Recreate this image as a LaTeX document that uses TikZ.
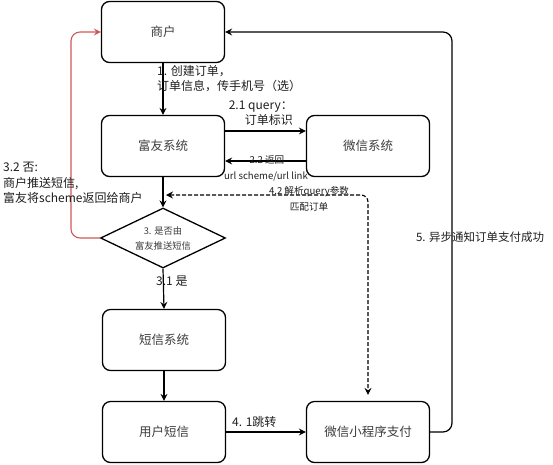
\documentclass[tikz,border=0pt]{standalone}
\usepackage{fontspec}
\setmainfont{Noto Sans CJK SC}
\usetikzlibrary{arrows.meta,shapes.geometric}
\definecolor{redline}{RGB}{208,88,88}
\definecolor{boxtext}{RGB}{60,60,60}
\definecolor{labtext}{RGB}{30,30,30}
\begin{document}
\begin{tikzpicture}[x=1pt,y=-1pt,
  box/.style={draw=black,line width=1.3pt,rounded corners=8pt,minimum width=123pt,minimum height=61pt,inner sep=0pt,font=\fontsize{12.5}{15}\selectfont,text=boxtext},
  dia/.style={draw=black,line width=1.3pt,diamond,aspect=2.05,minimum width=125pt,minimum height=60pt,inner sep=0pt,align=center,font=\fontsize{9.3}{15}\selectfont,text=boxtext},
  conn/.style={line width=1.2pt,-{Stealth[length=7pt,width=7pt,inset=2.5pt]}},
  lab/.style={font=\fontsize{12}{15.5}\selectfont,text=labtext,inner sep=0pt},
  slab/.style={font=\fontsize{9.6}{16}\selectfont,text=labtext,inner sep=0pt}
]
\useasboundingbox (0,0) rectangle (553,464);
\node[box] (shanghu) at (163,32) {商户};
\node[box] (fuyou) at (163,146) {富友系统};
\node[box] (weixin) at (368,146) {微信系统};
\node[dia] (dia) at (163,238) {3. 是否由\\富友推送短信};
\node[box] (sms) at (164,340) {短信系统};
\node[box] (user) at (164,432) {用户短信};
\node[box] (pay) at (368,432) {微信小程序支付};
\coordinate (c5) at (452,32);
\coordinate (c32) at (71,32);
\coordinate (d4) at (166,195);
% connectors
\draw[conn] (shanghu.south) -- (fuyou.north);
\draw[conn] (fuyou.east |- 0,131) -- (weixin.west |- 0,131);
\draw[conn] (weixin.west |- 0,161) -- (fuyou.east |- 0,161);
\draw[conn] (fuyou.south) -- (dia.north);
\draw[conn,dash pattern=on 4pt off 2pt,line width=1.1pt,rounded corners=7pt,{Stealth[length=7pt,width=7pt,inset=2.5pt]}-{Stealth[length=7pt,width=7pt,inset=2.5pt]},shorten >=6pt] (d4) -| (pay.north);
\draw[conn] (dia.south) -- (sms.north);
\draw[conn] (sms.south) -- (user.north);
\draw[conn] (user.east) -- (pay.west);
\draw[conn,rounded corners=9pt] (pay.east) -| (c5) -- (shanghu.east);
\draw[conn,draw=redline,line width=1.1pt,rounded corners=9pt] (dia.west) -| (c32) -- (shanghu.west);
% labels
\node[lab,anchor=north west,align=left] (l1) at (157,65) {1. 创建订单，\\订单信息，传手机号（选）};
\node[lab,anchor=south east,align=right] (l21) at (293,126) {2.1 query：\\订单标识};
\node[slab,anchor=center] (l22a) at (267,160) {2.2 返回};
\node[slab,anchor=center] (l22b) at (266,177) {url scheme/url link};
\node[slab,anchor=center,align=center] (l42) at (309,199) {4.2 解析query参数\\匹配订单};
\node[lab,anchor=west] (l31) at (156,281) {3.1 是};
\node[lab,anchor=west] (l32) at (3,183) [align=left] {3.2 否:\\商户推送短信,\\富友将scheme返回给商户};
\node[lab,anchor=south west] (l41) at (232,428) {4. 1跳转};
\node[lab,anchor=center,font=\fontsize{11.5}{15}\selectfont] (l5) at (480,237) {5. 异步通知订单支付成功};
\end{tikzpicture}
\end{document}
